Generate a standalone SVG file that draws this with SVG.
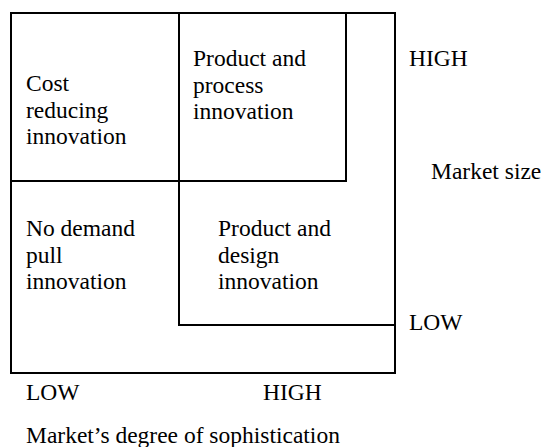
<svg xmlns="http://www.w3.org/2000/svg" width="544" height="447" viewBox="0 0 544 447">
<style>
text{font-family:"Liberation Serif","Times New Roman",serif;font-size:23.5px;fill:#000}
.ln{fill:none;stroke:#000;stroke-width:2}
</style>
<rect width="544" height="447" fill="#fff"/>
<g id="connectors">
<rect class="ln" x="11" y="13" width="384" height="360"/>
<path class="ln" d="M179 13V325H395M11 181H346V13"/>
</g>
<g id="cost"><text x="26" y="91">Cost</text><text x="26" y="117.5">reducing</text><text x="26" y="144">innovation</text></g>
<g id="process"><text x="193" y="66">Product and</text><text x="193" y="92.5">process</text><text x="193" y="119">innovation</text></g>
<g id="nodemand"><text x="26" y="236">No demand</text><text x="26" y="262.5">pull</text><text x="26" y="289">innovation</text></g>
<g id="design"><text x="218" y="236">Product and</text><text x="218" y="262.5">design</text><text x="218" y="289">innovation</text></g>
<g id="labels">
<text x="409" y="66">HIGH</text>
<text x="431" y="179">Market size</text>
<text x="409" y="330">LOW</text>
<text x="26" y="400">LOW</text>
<text x="263" y="400">HIGH</text>
<text x="26" y="443">Market’s degree of sophistication</text>
</g>
</svg>
